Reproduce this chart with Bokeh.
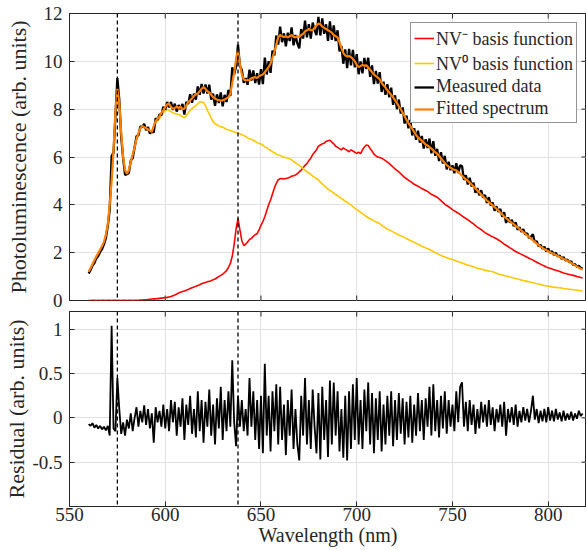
from bokeh.plotting import figure
from bokeh.models import Range1d, FixedTicker, Span, Arrow, Grid
from bokeh.layouts import column
from bokeh.embed import file_html
from bokeh.resources import INLINE

# ---------------- data ----------------
wavelength = list(range(560, 819))  # nm, 1 nm sampling

fitted = [
    1.20, 1.36, 1.52, 1.68, 1.84, 1.98, 2.12, 2.28, 2.45, 2.75,
    3.20, 4.00, 5.00, 6.30, 7.90, 8.85, 8.30, 7.00, 6.00, 5.45,
    5.30, 5.45, 5.80, 6.10, 6.40, 6.75, 7.00, 7.20, 7.30, 7.25,
    7.20, 7.15, 7.10, 7.05, 7.30, 7.50, 7.60, 7.70, 7.85, 7.95,
    8.10, 8.20, 8.22, 8.10, 8.02, 8.05, 8.10, 8.05, 8.10, 8.00,
    8.02, 8.15, 8.30, 8.37, 8.45, 8.55, 8.62, 8.65, 8.75, 8.85,
    8.93, 8.85, 8.75, 8.70, 8.60, 8.50, 8.44, 8.40, 8.38, 8.35,
    8.37, 8.40, 8.45, 8.50, 8.65, 9.10, 9.50, 10.10, 10.45, 9.90,
    9.45, 9.25, 9.20, 9.22, 9.20, 9.30, 9.32, 9.34, 9.30, 9.38,
    9.42, 9.45, 9.55, 9.65, 9.76, 9.90, 10.15, 10.40, 10.70, 11.00,
    11.10, 11.05, 11.02, 11.05, 11.00, 11.05, 11.10, 11.02, 11.00, 11.05,
    11.02, 11.10, 11.15, 11.25, 11.30, 11.35, 11.30, 11.30, 11.40, 11.50,
    11.58, 11.55, 11.45, 11.40, 11.35, 11.30, 11.25, 11.20, 11.10, 11.05,
    11.00, 10.80, 10.55, 10.35, 10.25, 10.20, 10.22, 10.18, 10.10, 10.00,
    9.85, 9.76, 9.80, 9.85, 9.82, 9.83, 9.75, 9.65, 9.55, 9.45,
    9.38, 9.32, 9.25, 9.10, 9.00, 8.90, 8.79, 8.70, 8.60, 8.50,
    8.38, 8.25, 8.12, 8.00, 7.85, 7.70, 7.55, 7.42, 7.30, 7.18,
    7.05, 6.92, 6.82, 6.75, 6.68, 6.60, 6.52, 6.48, 6.42, 6.35,
    6.28, 6.20, 6.14, 6.05, 5.95, 5.85, 5.75, 5.66, 5.60, 5.55,
    5.50, 5.47, 5.44, 5.38, 5.30, 5.22, 5.14, 5.06, 5.00, 4.93,
    4.85, 4.77, 4.68, 4.60, 4.52, 4.43, 4.35, 4.26, 4.18, 4.12,
    4.05, 3.98, 3.90, 3.84, 3.76, 3.68, 3.60, 3.51, 3.44, 3.38,
    3.31, 3.25, 3.19, 3.12, 3.06, 2.99, 2.92, 2.86, 2.79, 2.72,
    2.66, 2.59, 2.52, 2.45, 2.38, 2.32, 2.25, 2.20, 2.15, 2.10,
    2.06, 2.02, 1.98, 1.94, 1.90, 1.86, 1.82, 1.78, 1.74, 1.70,
    1.66, 1.62, 1.57, 1.52, 1.47, 1.42, 1.37, 1.33, 1.30,
]

nv_zero = [
    1.20, 1.36, 1.52, 1.68, 1.84, 1.98, 2.12, 2.28, 2.45, 2.75,
    3.20, 4.00, 5.00, 6.30, 7.90, 8.85, 8.30, 7.00, 6.00, 5.45,
    5.30, 5.45, 5.80, 6.10, 6.40, 6.75, 6.99, 7.18, 7.28, 7.22,
    7.17, 7.10, 7.05, 6.98, 7.22, 7.43, 7.52, 7.60, 7.75, 7.85,
    7.95, 7.98, 7.95, 7.90, 7.85, 7.82, 7.80, 7.78, 7.74, 7.68,
    7.65, 7.72, 7.85, 7.95, 8.03, 8.09, 8.15, 8.22, 8.30, 8.30,
    8.28, 8.15, 7.95, 7.80, 7.62, 7.48, 7.39, 7.35, 7.30, 7.26,
    7.25, 7.20, 7.16, 7.13, 7.11, 7.08, 7.05, 7.02, 7.00, 6.97,
    6.93, 6.90, 6.85, 6.80, 6.76, 6.74, 6.70, 6.65, 6.60, 6.56,
    6.55, 6.50, 6.42, 6.40, 6.32, 6.28, 6.22, 6.18, 6.12, 6.08,
    6.07, 6.02, 6.00, 5.97, 5.95, 5.93, 5.88, 5.82, 5.76, 5.70,
    5.65, 5.60, 5.52, 5.45, 5.38, 5.33, 5.28, 5.20, 5.15, 5.10,
    5.05, 4.95, 4.88, 4.80, 4.73, 4.66, 4.60, 4.55, 4.49, 4.43,
    4.38, 4.32, 4.27, 4.21, 4.15, 4.10, 4.05, 4.00, 3.93, 3.86,
    3.80, 3.74, 3.69, 3.63, 3.57, 3.51, 3.46, 3.42, 3.38, 3.33,
    3.29, 3.25, 3.21, 3.15, 3.09, 3.04, 2.98, 2.95, 2.91, 2.87,
    2.82, 2.78, 2.74, 2.71, 2.67, 2.63, 2.59, 2.55, 2.51, 2.47,
    2.43, 2.39, 2.35, 2.31, 2.27, 2.24, 2.20, 2.17, 2.13, 2.09,
    2.05, 2.00, 1.96, 1.92, 1.88, 1.85, 1.82, 1.79, 1.76, 1.74,
    1.71, 1.68, 1.65, 1.62, 1.60, 1.57, 1.54, 1.51, 1.48, 1.46,
    1.43, 1.41, 1.38, 1.35, 1.33, 1.31, 1.29, 1.27, 1.25, 1.23,
    1.22, 1.20, 1.17, 1.14, 1.11, 1.09, 1.07, 1.05, 1.02, 1.00,
    0.98, 0.96, 0.94, 0.92, 0.90, 0.88, 0.86, 0.84, 0.82, 0.80,
    0.78, 0.76, 0.74, 0.72, 0.70, 0.69, 0.67, 0.65, 0.63, 0.61,
    0.60, 0.59, 0.57, 0.56, 0.55, 0.54, 0.53, 0.52, 0.50, 0.49,
    0.48, 0.47, 0.46, 0.45, 0.44, 0.43, 0.42, 0.41, 0.40,
]

nv_minus = [
    0.01, 0.00, 0.01, 0.01, 0.00, 0.01, 0.00, 0.01, 0.01, 0.00,
    0.01, 0.01, 0.00, 0.01, 0.01, 0.00, 0.01, 0.00, 0.01, 0.01,
    0.00, 0.01, 0.01, 0.00, 0.01, 0.01, 0.01, 0.02, 0.02, 0.03,
    0.03, 0.04, 0.05, 0.06, 0.07, 0.07, 0.08, 0.09, 0.10, 0.11,
    0.12, 0.13, 0.15, 0.17, 0.20, 0.23, 0.27, 0.31, 0.35, 0.38,
    0.40, 0.43, 0.46, 0.50, 0.53, 0.56, 0.60, 0.63, 0.66, 0.70,
    0.73, 0.75, 0.78, 0.80, 0.83, 0.87, 0.90, 0.95, 1.00, 1.05,
    1.10, 1.17, 1.25, 1.38, 1.55, 1.85, 2.35, 3.00, 3.42, 2.95,
    2.50, 2.30, 2.35, 2.45, 2.55, 2.60, 2.68, 2.75, 2.80, 2.95,
    3.15, 3.30, 3.50, 3.75, 4.00, 4.20, 4.45, 4.70, 4.90, 5.05,
    5.09, 5.10, 5.08, 5.10, 5.12, 5.15, 5.20, 5.22, 5.25, 5.30,
    5.38, 5.45, 5.55, 5.65, 5.72, 5.85, 5.95, 6.10, 6.20, 6.30,
    6.45, 6.50, 6.55, 6.58, 6.65, 6.68, 6.70, 6.62, 6.55, 6.45,
    6.40, 6.35, 6.30, 6.38, 6.32, 6.28, 6.22, 6.30, 6.25, 6.20,
    6.15, 6.20, 6.14, 6.30, 6.42, 6.50, 6.48, 6.35, 6.25, 6.12,
    6.05, 6.00, 5.98, 5.95, 5.90, 5.85, 5.79, 5.72, 5.65, 5.58,
    5.50, 5.44, 5.38, 5.30, 5.22, 5.15, 5.09, 5.03, 4.98, 4.92,
    4.86, 4.82, 4.78, 4.73, 4.68, 4.64, 4.60, 4.56, 4.50, 4.44,
    4.40, 4.36, 4.32, 4.25, 4.18, 4.10, 4.03, 3.97, 3.92, 3.86,
    3.80, 3.75, 3.70, 3.65, 3.60, 3.54, 3.48, 3.43, 3.38, 3.32,
    3.26, 3.20, 3.13, 3.07, 3.02, 2.96, 2.90, 2.84, 2.79, 2.75,
    2.70, 2.66, 2.62, 2.58, 2.53, 2.48, 2.42, 2.36, 2.31, 2.26,
    2.20, 2.16, 2.10, 2.05, 2.01, 1.97, 1.93, 1.89, 1.85, 1.81,
    1.77, 1.73, 1.69, 1.64, 1.60, 1.56, 1.52, 1.48, 1.44, 1.40,
    1.37, 1.35, 1.32, 1.29, 1.26, 1.24, 1.21, 1.18, 1.15, 1.13,
    1.11, 1.09, 1.07, 1.05, 1.03, 1.00, 0.98, 0.96, 0.94,
]

measured = [
    1.13, 1.27, 1.46, 1.57, 1.76, 1.86, 2.03, 2.15, 2.35, 2.61,
    3.11, 3.80, 6.04, 6.18, 7.75, 9.30, 8.40, 6.82, 5.95, 5.25,
    5.28, 5.33, 5.85, 5.95, 6.40, 6.87, 6.90, 7.28, 7.25, 7.39,
    7.12, 7.25, 6.98, 7.10, 7.02, 7.62, 7.55, 7.78, 7.75, 8.10,
    7.98, 8.30, 8.07, 8.30, 7.97, 8.23, 7.90, 8.17, 8.00, 8.22,
    7.77, 8.30, 8.22, 8.62, 8.27, 8.65, 8.40, 8.95, 8.60, 9.05,
    8.65, 9.03, 8.65, 9.02, 8.40, 8.65, 8.14, 8.62, 8.26, 8.70,
    8.12, 8.60, 8.30, 8.80, 8.55, 9.75, 9.45, 9.78, 10.70, 9.80,
    9.65, 9.10, 9.30, 9.02, 9.65, 9.20, 9.62, 9.09, 9.50, 9.03,
    9.67, 9.05, 10.16, 9.45, 10.01, 9.52, 10.45, 10.25, 11.08, 10.70,
    11.45, 10.80, 11.17, 10.63, 11.20, 10.85, 11.42, 10.67, 11.10, 10.75,
    10.54, 11.35, 10.95, 11.70, 11.00, 11.55, 10.95, 11.62, 11.30, 11.10,
    11.86, 11.08, 11.80, 11.15, 11.55, 10.86, 11.67, 10.90, 11.50, 10.85,
    11.30, 10.42, 10.65, 9.90, 10.50, 9.72, 10.52, 9.83, 10.48, 9.75,
    10.30, 9.46, 10.00, 9.50, 10.14, 9.68, 10.15, 9.35, 9.83, 9.05,
    9.60, 9.07, 9.55, 8.72, 9.15, 8.60, 9.04, 8.50, 8.90, 8.18,
    8.58, 8.00, 8.40, 7.82, 8.07, 7.40, 7.73, 7.20, 7.55, 6.90,
    7.20, 6.72, 7.10, 6.60, 6.88, 6.35, 6.74, 6.38, 6.77, 6.15,
    6.66, 6.05, 6.34, 5.83, 6.20, 5.73, 6.05, 5.48, 5.80, 5.45,
    5.65, 5.32, 5.74, 5.33, 5.65, 5.62, 5.04, 5.24, 4.85, 5.13,
    4.77, 4.92, 4.50, 4.70, 4.40, 4.61, 4.30, 4.41, 4.08, 4.32,
    3.97, 4.10, 3.75, 3.94, 3.71, 3.83, 3.50, 3.69, 3.24, 3.48,
    3.26, 3.37, 3.11, 3.27, 2.96, 3.07, 2.87, 2.98, 2.76, 2.82,
    2.61, 2.67, 2.77, 2.43, 2.48, 2.26, 2.33, 2.16, 2.25, 2.05,
    2.18, 1.99, 2.06, 1.90, 2.00, 1.84, 1.88, 1.74, 1.82, 1.67,
    1.71, 1.60, 1.64, 1.49, 1.52, 1.41, 1.45, 1.35, 1.35,
]

residual = [
    -0.07, -0.09, -0.06, -0.11, -0.08, -0.12, -0.09, -0.13, -0.10, -0.14,
    -0.09, -0.20, 1.04, -0.12, -0.15, 0.45, 0.10, -0.18, -0.05, -0.20,
    -0.02, -0.12, 0.05, -0.15, 0.00, 0.12, -0.10, 0.08, -0.05, 0.14,
    -0.08, 0.10, -0.12, 0.05, -0.28, 0.12, -0.05, 0.08, -0.10, 0.15,
    -0.12, 0.10, -0.15, 0.20, -0.05, 0.18, -0.20, 0.12, -0.10, 0.22,
    -0.25, 0.15, -0.08, 0.25, -0.18, 0.10, -0.22, 0.30, -0.15, 0.20,
    -0.28, 0.18, -0.10, 0.32, -0.20, 0.15, -0.30, 0.22, -0.12, 0.35,
    -0.25, 0.20, -0.15, 0.30, -0.10, 0.65, -0.05, -0.32, 0.25, -0.10,
    0.20, -0.15, 0.10, -0.20, 0.45, -0.10, 0.30, -0.25, 0.20, -0.35,
    0.25, -0.40, 0.61, -0.20, 0.25, -0.38, 0.30, -0.15, 0.38, -0.30,
    0.35, -0.25, 0.15, -0.42, 0.20, -0.20, 0.32, -0.35, 0.10, -0.30,
    -0.48, 0.25, -0.20, 0.45, -0.30, 0.20, -0.35, 0.32, -0.10, -0.40,
    0.28, -0.47, 0.35, -0.25, 0.20, -0.44, 0.42, -0.30, 0.40, -0.20,
    0.30, -0.38, 0.10, -0.45, 0.25, -0.48, 0.30, -0.35, 0.38, -0.25,
    0.45, -0.30, 0.20, -0.35, 0.32, -0.15, 0.40, -0.30, 0.28, -0.40,
    0.22, -0.25, 0.30, -0.38, 0.15, -0.30, 0.25, -0.20, 0.30, -0.32,
    0.20, -0.25, 0.28, -0.18, 0.22, -0.30, 0.18, -0.22, 0.25, -0.28,
    0.15, -0.20, 0.28, -0.15, 0.20, -0.25, 0.22, -0.10, 0.35, -0.20,
    0.38, -0.15, 0.20, -0.22, 0.25, -0.12, 0.30, -0.18, 0.20, -0.10,
    0.15, -0.15, 0.30, -0.05, 0.35, 0.40, -0.10, 0.18, -0.15, 0.20,
    -0.08, 0.15, -0.18, 0.10, -0.12, 0.18, -0.05, 0.15, -0.10, 0.20,
    -0.08, 0.12, -0.15, 0.10, -0.05, 0.15, -0.10, 0.18, -0.20, 0.10,
    -0.05, 0.12, -0.08, 0.15, -0.10, 0.08, -0.05, 0.12, -0.03, 0.10,
    -0.05, 0.08, 0.25, -0.02, 0.10, -0.06, 0.08, -0.04, 0.10, -0.05,
    0.12, -0.03, 0.08, -0.04, 0.10, -0.02, 0.06, -0.04, 0.08, -0.03,
    0.05, -0.02, 0.07, -0.03, 0.05, -0.01, 0.08, 0.02, 0.05,
]

zpl_lines = [575, 638]                 # NV0 and NV- zero-phonon lines (nm)
x_ticks = [550, 600, 650, 700, 750, 800]
pl_ticks = [0, 2, 4, 6, 8, 10, 12]
res_ticks = [-0.5, 0, 0.5, 1]
res_tick_labels = ["-0.5", "0", "0.5", "1"]

# ---------------- styling ----------------
FONT = "Liberation Serif"
AX = "#262626"
GRID = "#e2e2e2"
W = 586
LEFT = 69
TICK_PX = 5


def box_ticks(p, yticks, frame_w, frame_h, bottom_too):
    """Inward tick marks on the top/right (and optionally bottom) frame edges."""
    xr, yr = p.x_range, p.y_range
    ly = TICK_PX * (yr.end - yr.start) / frame_h
    lx = TICK_PX * (xr.end - xr.start) / frame_w
    n = len(x_ticks)
    p.segment(x0=x_ticks, y0=[yr.end] * n, x1=x_ticks, y1=[yr.end - ly] * n,
              line_color=AX, line_width=1)
    if bottom_too:
        p.segment(x0=x_ticks, y0=[yr.start] * n, x1=x_ticks,
                  y1=[yr.start + ly] * n, line_color=AX, line_width=1)
    m = len(yticks)
    p.segment(x0=[xr.end] * m, y0=yticks, x1=[xr.end - lx] * m, y1=yticks,
              line_color=AX, line_width=1)


def style_common(p, yticks, ylabel, ylabel_standoff):
    p.outline_line_color = AX
    p.outline_line_width = 1
    p.outline_line_alpha = 1
    p.background_fill_color = "white"
    p.border_fill_color = "white"
    axes = list(p.xaxis) + list(p.yaxis)
    for ax in axes:
        ax.axis_line_color = AX
        ax.major_tick_line_color = AX
        ax.major_tick_in = TICK_PX
        ax.major_tick_out = 0
        ax.minor_tick_line_color = None
        ax.major_label_text_font = FONT
        ax.major_label_text_color = AX
        ax.major_label_text_font_size = "19px"
        ax.axis_label_text_font = FONT
        ax.axis_label_text_font_style = "normal"
        ax.axis_label_text_color = AX
    p.yaxis.ticker = FixedTicker(ticks=yticks)
    left = p.left[0]
    left.major_label_standoff = 7
    left.axis_label = ylabel
    left.axis_label_text_font_size = "22px"
    left.axis_label_standoff = ylabel_standoff
    for g in p.ygrid:
        g.ticker = FixedTicker(ticks=yticks)
        g.grid_line_color = GRID
        g.grid_line_width = 1


x_range = Range1d(550, 820)

# ---------------- top panel: spectra ----------------
H1, TOP1, BOT1 = 311, 13, 11
p1 = figure(width=W, height=H1, x_range=x_range, y_range=Range1d(0, 12),
            x_axis_location=None,
            output_backend="svg", toolbar_location=None,
            min_border_left=LEFT, min_border_right=0,
            min_border_top=TOP1, min_border_bottom=BOT1)
style_common(p1, pl_ticks, "Photoluminescence (arb. units)", 10)
p1.add_layout(Grid(dimension=0, ticker=FixedTicker(ticks=x_ticks),
                   grid_line_color=GRID, grid_line_width=1))
box_ticks(p1, pl_ticks, W - LEFT, H1 - TOP1 - BOT1, True)

p1.line(wavelength, nv_minus, line_color="#ff0000", line_width=1.6,
        legend_label="NV\u207b basis function")
p1.line(wavelength, nv_zero, line_color="#ffc800", line_width=1.6,
        legend_label="NV\u2070 basis function")
p1.line(wavelength, measured, line_color="black", line_width=2.3,
        legend_label="Measured data")
p1.line(wavelength, fitted, line_color="#ff7f00", line_width=2.2,
        legend_label="Fitted spectrum")

# dashed ZPL markers; in the top panel they run on through the gap below
gap_px = BOT1
frame_h1 = H1 - TOP1 - BOT1
y_gap = p1.y_range.start - gap_px * (p1.y_range.end - p1.y_range.start) / frame_h1
for wl in zpl_lines:
    p1.add_layout(Arrow(end=None, x_start=wl, y_start=p1.y_range.end,
                        x_end=wl, y_end=y_gap, line_color="black",
                        line_width=1.3, line_dash="4 3"))

lg = p1.legend[0]
lg.location = "top_right"
lg.margin = 9
lg.padding = 3
lg.spacing = 1
lg.label_height = 20
lg.glyph_height = 20
lg.glyph_width = 20
lg.label_standoff = 2
lg.label_text_font = FONT
lg.label_text_font_size = "18px"
lg.label_text_color = AX
lg.border_line_color = AX
lg.border_line_width = 1
lg.background_fill_alpha = 1

# ---------------- bottom panel: residual ----------------
H2, TOP2, BOT2 = 239, 0, 44
p2 = figure(width=W, height=H2, x_range=x_range, y_range=Range1d(-1, 1.2),
            output_backend="svg", toolbar_location=None,
            min_border_left=LEFT, min_border_right=0,
            min_border_top=TOP2, min_border_bottom=BOT2)
style_common(p2, res_ticks, "Residual (arb. units)", 0)
p2.left[0].major_label_overrides = {t: s for t, s in zip(res_ticks, res_tick_labels)}
bx = p2.below[0]
bx.ticker = FixedTicker(ticks=x_ticks)
bx.major_label_standoff = 1
bx.axis_label = "Wavelength (nm)"
bx.axis_label_text_font_size = "20px"
bx.axis_label_standoff = 0
for g in p2.xgrid:
    g.ticker = FixedTicker(ticks=x_ticks)
    g.grid_line_color = GRID
    g.grid_line_width = 1
box_ticks(p2, res_ticks, W - LEFT, H2 - TOP2 - BOT2, False)

p2.line(wavelength, residual, line_color="black", line_width=1.8)
for wl in zpl_lines:
    p2.add_layout(Span(location=wl, dimension="height", line_color="black",
                       line_width=1.3, line_dash="4 3"))

layout = column(p1, p2, spacing=0)
open("out.html", "w").write(file_html(layout, INLINE))
